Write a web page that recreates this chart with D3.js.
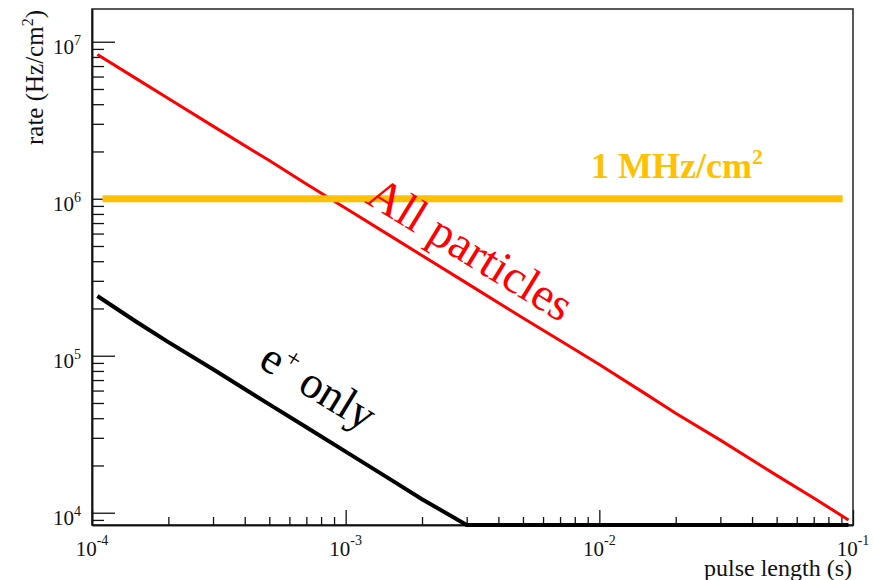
<!DOCTYPE html>
<html><head><meta charset="utf-8">
<script src="https://cdn.jsdelivr.net/npm/d3@7"></script>
<style>body{margin:0;background:#fff} svg{display:block}</style>
</head><body>
<svg id="c" width="873" height="580"></svg>
<script>
// ---- data ----
const pulseLengths = [1.05e-4, 1.5e-4, 2e-4, 3e-4, 5e-4, 7e-4, 1e-3, 1.5e-3, 2e-3, 3e-3, 5e-3, 7e-3, 1e-2, 1.5e-2, 2e-2, 3e-2, 5e-2, 7e-2, 9.6e-2];
const allParticles = [8.3e6, 5.8e6, 4.35e6, 2.9e6, 1.75e6, 1.24e6, 8.7e5, 5.8e5, 4.35e5, 2.9e5, 1.74e5, 1.25e5, 8.8e4, 5.8e4, 4.3e4, 2.9e4, 1.73e4, 1.24e4, 9.0e3];
const positronOnly = [2.4e5, 1.64e5, 1.22e5, 8.2e4, 4.9e4, 3.5e4, 2.45e4, 1.63e4, 1.22e4, 8.1e3, 4.9e3, 3.5e3, 2.45e3, 1.63e3, 1.22e3, 8.1e2, 4.9e2, 3.5e2, 2.55e2];
const thresholdRate = 1e6;
const thresholdRange = [1.1e-4, 9.1e-2];
const xTickExps = ["-4", "-3", "-2", "-1"];
const yTickExps = ["4", "5", "6", "7"];
const xDomain = [1e-4, 1e-1];
const yDomain = [8353, 1.616e7];

// ---- layout ----
const L = 92, R = 853, T = 9, B = 525;
const FONT = "'Liberation Serif','Times New Roman',serif";
const svg = d3.select("#c");
const x = d3.scaleLog().domain(xDomain).range([L, R]);
const y = d3.scaleLog().domain(yDomain).range([B, T]).clamp(true);

// frame
svg.append("rect").attr("x", L).attr("y", T).attr("width", R - L).attr("height", B - T)
  .attr("fill", "none").attr("stroke", "#222").attr("stroke-width", 1.5);

// ticks
function decadeTicks(lo, hi) {
  const maj = [], min = [];
  for (let e = Math.floor(Math.log10(lo)); e <= Math.ceil(Math.log10(hi)); e++) {
    for (let m = 1; m <= 9; m++) {
      const v = m * Math.pow(10, e);
      if (v < lo * 0.999 || v > hi * 1.001) continue;
      (m === 1 ? maj : min).push(v);
    }
  }
  return {maj, min};
}
const xt = decadeTicks(xDomain[0], xDomain[1]);
const yt = decadeTicks(yDomain[0], yDomain[1]);

function styleAxis(g) {
  g.selectAll("path.domain").attr("stroke", "#111").attr("stroke-width", 1.5);
  g.selectAll(".tick line").attr("stroke", "#111").attr("stroke-width", 1.3);
  g.selectAll(".tick text").remove();
}
svg.append("g").attr("transform", `translate(0,${B})`)
  .call(d3.axisBottom(x).tickValues(xt.min).tickSizeInner(-8).tickSizeOuter(0).tickFormat(""))
  .call(styleAxis);
svg.append("g").attr("transform", `translate(0,${B})`)
  .call(d3.axisBottom(x).tickValues(xt.maj).tickSizeInner(-15).tickSizeOuter(0).tickFormat(""))
  .call(styleAxis);
svg.append("g").attr("transform", `translate(${L},0)`)
  .call(d3.axisLeft(y).tickValues(yt.min).tickSizeInner(-12).tickSizeOuter(0).tickFormat(""))
  .call(styleAxis);
svg.append("g").attr("transform", `translate(${L},0)`)
  .call(d3.axisLeft(y).tickValues(yt.maj).tickSizeInner(-23).tickSizeOuter(0).tickFormat(""))
  .call(styleAxis);

// tick labels
xt.maj.forEach((v, i) => {
  const t = svg.append("text").attr("x", x(v)).attr("y", 556).attr("text-anchor", "middle")
    .attr("font-family", FONT).attr("font-size", 21).attr("fill", "#111");
  t.append("tspan").text("10");
  t.append("tspan").attr("font-size", 14).attr("dy", -11).text(xTickExps[i]);
});
yt.maj.forEach((v, i) => {
  const t = svg.append("text").attr("x", 81).attr("y", y(v) + 12).attr("text-anchor", "end")
    .attr("font-family", FONT).attr("font-size", 21).attr("fill", "#111");
  t.append("tspan").text("10");
  t.append("tspan").attr("font-size", 14).attr("dy", -9).text(yTickExps[i]);
});

// axis titles
const yl = svg.append("text").attr("transform", "translate(43,10) rotate(-90)").attr("text-anchor", "end")
  .attr("font-family", FONT).attr("font-size", 25).attr("fill", "#111");
yl.append("tspan").text("rate (Hz/cm");
yl.append("tspan").attr("font-size", 16).attr("dy", -10).text("2");
yl.append("tspan").attr("dy", 10).text(")");
svg.append("text").attr("x", 852).attr("y", 576).attr("text-anchor", "end")
  .attr("font-family", FONT).attr("font-size", 24).attr("fill", "#111").text("pulse length (s)");

// series
const line = d3.line().x(d => x(d[0])).y(d => y(d[1]));
svg.append("path").datum(d3.zip(pulseLengths, allParticles)).attr("d", line)
  .attr("fill", "none").attr("stroke", "#ff0000").attr("stroke-width", 3);
svg.append("path").datum(d3.zip(pulseLengths, positronOnly)).attr("d", line)
  .attr("fill", "none").attr("stroke", "#000").attr("stroke-width", 4);
svg.append("path").datum(thresholdRange.map(t => [t, thresholdRate])).attr("d", line)
  .attr("fill", "none").attr("stroke", "#ffc000").attr("stroke-width", 7);

// labels
const mh = svg.append("text").attr("x", 591).attr("y", 178).attr("font-family", FONT)
  .attr("font-weight", "bold").attr("font-size", 36).attr("fill", "#ffc000");
mh.append("tspan").text("1 MHz/cm");
mh.append("tspan").attr("font-size", 22).attr("dy", -14).text("2");

svg.append("text").attr("transform", "translate(364,202) rotate(31.5)")
  .attr("font-family", FONT).attr("font-size", 47).attr("fill", "#ff0000").text("All particles");

const ep = svg.append("text").attr("transform", "translate(257,366) rotate(31.5)")
  .attr("font-family", FONT).attr("font-size", 45).attr("fill", "#000");
ep.append("tspan").text("e");
ep.append("tspan").attr("font-size", 26).attr("dy", -17).text("+");
ep.append("tspan").attr("dy", 17).text(" only");
</script>
</body></html>
